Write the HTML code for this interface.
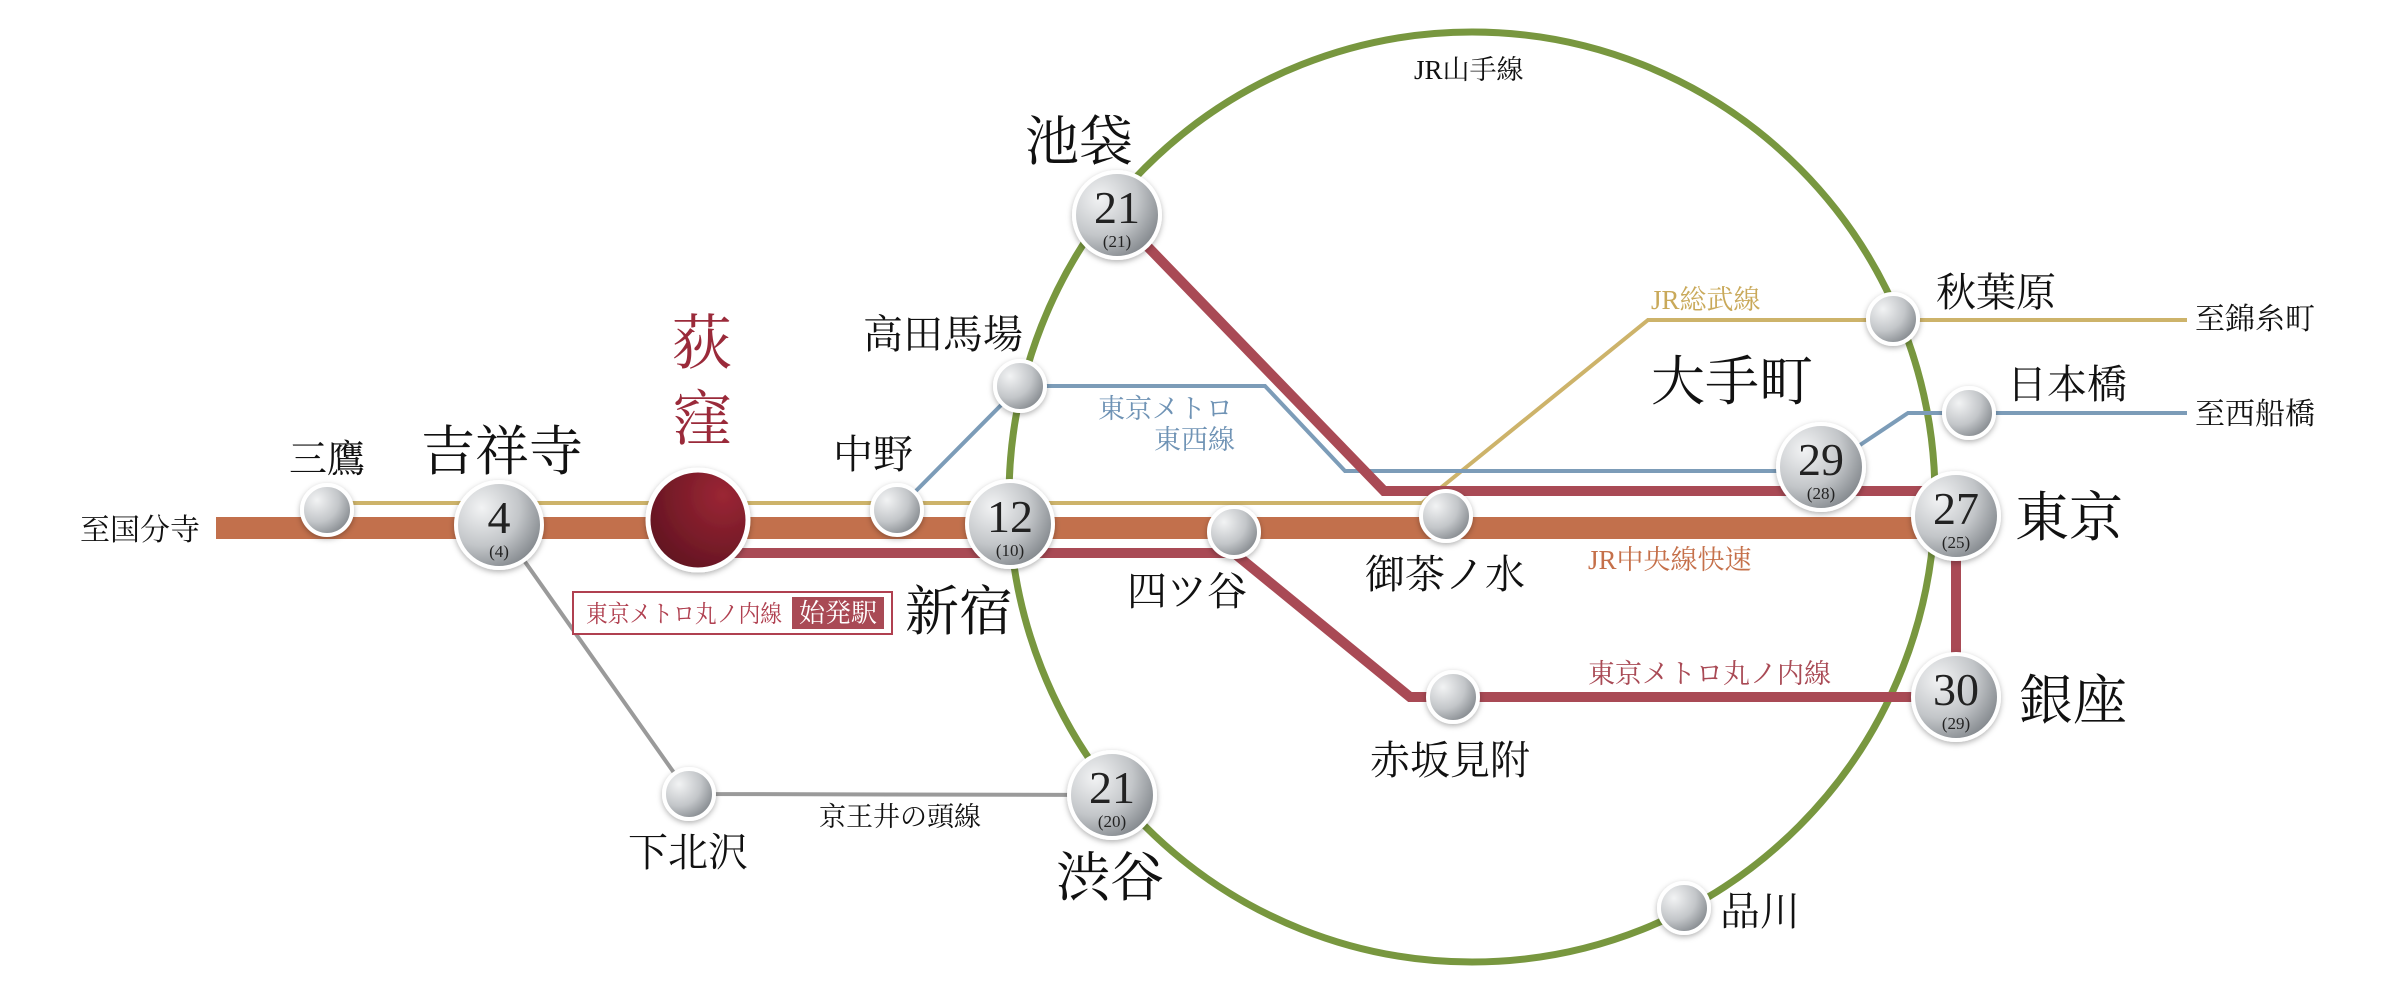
<!DOCTYPE html>
<html><head><meta charset="utf-8"><style>
html,body{margin:0;padding:0;background:#fff;}
svg{display:block;}
text{font-family:"Liberation Serif","Noto Serif CJK SC","Noto Sans CJK JP",serif;}
</style></head><body>
<svg width="2400" height="989" viewBox="0 0 2400 989" xmlns="http://www.w3.org/2000/svg">
<defs>
<radialGradient id="sg" cx="0.3" cy="0.3" r="0.8">
<stop offset="0" stop-color="#f2f3f4"/><stop offset="0.55" stop-color="#c3c6c9"/><stop offset="1" stop-color="#7e8388"/>
</radialGradient>
<radialGradient id="rg" cx="0.75" cy="0.25" r="0.9">
<stop offset="0" stop-color="#9b2634"/><stop offset="1" stop-color="#5e1320"/>
</radialGradient>
<filter id="sh" x="-30%" y="-30%" width="160%" height="160%"><feDropShadow dx="0" dy="2" stdDeviation="3" flood-color="#000" flood-opacity="0.3"/></filter>
</defs>
<ellipse cx="1472" cy="497" rx="463" ry="465" fill="none" stroke="#78973f" stroke-width="7"/>
<polyline points="327,503 1422,503 1648,320 2187,320" fill="none" stroke="#cdb36a" stroke-width="4"/>
<rect x="216" y="517" width="1744" height="22" fill="#c2704c"/>
<polyline points="897,510 1020,386 1265,386 1345,471 1821,471 1908,413 2187,413" fill="none" stroke="#7c9cb8" stroke-width="4"/>
<polyline points="499,525 689,794 1112,795" fill="none" stroke="#9a9a9a" stroke-width="4"/>
<polyline points="698,553 1234,553 1410,697 1956,697 1956,516" fill="none" stroke="#a94a55" stroke-width="10"/>
<polyline points="1117,215 1384,491 1956,491" fill="none" stroke="#a94a55" stroke-width="10"/>
<g fill="url(#sg)" stroke="#fff" stroke-width="4" filter="url(#sh)">
<circle cx="327" cy="510" r="25"/>
<circle cx="897" cy="510" r="25"/>
<circle cx="1020" cy="386" r="25"/>
<circle cx="689" cy="794" r="25"/>
<circle cx="1234" cy="532" r="25"/>
<circle cx="1446" cy="516" r="25"/>
<circle cx="1453" cy="697" r="25"/>
<circle cx="1893" cy="319" r="25"/>
<circle cx="1969" cy="413" r="25"/>
<circle cx="1684" cy="908" r="25"/>
<circle cx="499" cy="525" r="43"/>
<circle cx="1010" cy="524" r="43"/>
<circle cx="1117" cy="215" r="43"/>
<circle cx="1112" cy="795" r="43"/>
<circle cx="1821" cy="467" r="43"/>
<circle cx="1956" cy="516" r="43"/>
<circle cx="1956" cy="697" r="43"/>
</g>
<circle cx="698" cy="520" r="50" fill="url(#rg)" stroke="#fff" stroke-width="5" filter="url(#sh)"/>
<g fill="#222" text-anchor="middle">
<text x="499" y="533" font-size="46">4</text><text x="499" y="557" font-size="17">(4)</text>
<text x="1010" y="532" font-size="46">12</text><text x="1010" y="556" font-size="17">(10)</text>
<text x="1117" y="223" font-size="46">21</text><text x="1117" y="247" font-size="17">(21)</text>
<text x="1112" y="803" font-size="46">21</text><text x="1112" y="827" font-size="17">(20)</text>
<text x="1821" y="475" font-size="46">29</text><text x="1821" y="499" font-size="17">(28)</text>
<text x="1956" y="524" font-size="46">27</text><text x="1956" y="548" font-size="17">(25)</text>
<text x="1956" y="705" font-size="46">30</text><text x="1956" y="729" font-size="17">(29)</text>
</g>
<g fill="#111">
<text x="1025" y="160" font-size="54">池袋</text>
<text x="863" y="348" font-size="40">高田馬場</text>
<text x="833" y="468" font-size="40">中野</text>
<text x="289" y="472" font-size="38">三鷹</text>
<text x="421" y="470" font-size="54">吉祥寺</text>
<text x="80" y="540" font-size="30">至国分寺</text>
<text x="905" y="630" font-size="54">新宿</text>
<text x="628" y="866" font-size="40">下北沢</text>
<text x="819" y="826" font-size="27">京王井の頭線</text>
<text x="1056" y="896" font-size="54">渋谷</text>
<text x="1127" y="605" font-size="40">四ツ谷</text>
<text x="1414" y="79" font-size="27">JR山手線</text>
<text x="1936" y="306" font-size="40">秋葉原</text>
<text x="2195" y="329" font-size="30">至錦糸町</text>
<text x="1651" y="400" font-size="54">大手町</text>
<text x="2007" y="398" font-size="40">日本橋</text>
<text x="2195" y="424" font-size="30">至西船橋</text>
<text x="2015" y="536" font-size="54">東京</text>
<text x="1365" y="588" font-size="40">御茶ノ水</text>
<text x="2019" y="719" font-size="54">銀座</text>
<text x="1370" y="774" font-size="40">赤坂見附</text>
<text x="1720" y="925" font-size="40">品川</text>
</g>
<text x="1651" y="309" font-size="27" fill="#c9a95a">JR総武線</text>
<text x="1588" y="569" font-size="27" fill="#c5704a">JR中央線快速</text>
<text x="1588" y="683" font-size="27" fill="#a94a55">東京メトロ丸ノ内線</text>
<g fill="#6f93b5" font-size="27" text-anchor="end">
<text x="1233" y="418">東京メトロ</text>
<text x="1235" y="449">東西線</text>
</g>
<g fill="#9a2a3a" font-size="60">
<text x="672" y="364">荻</text>
<text x="672" y="440">窪</text>
</g>
<rect x="573" y="592" width="319" height="42" fill="#fff" stroke="#b04050" stroke-width="2"/>
<text x="586" y="622" font-size="24" fill="#b04050" textLength="196" lengthAdjust="spacingAndGlyphs">東京メトロ丸ノ内線</text>
<rect x="792" y="597" width="92" height="32" fill="#a94a55"/>
<text x="838" y="622" font-size="26" fill="#fff" text-anchor="middle">始発駅</text>
</svg>
</body></html>
